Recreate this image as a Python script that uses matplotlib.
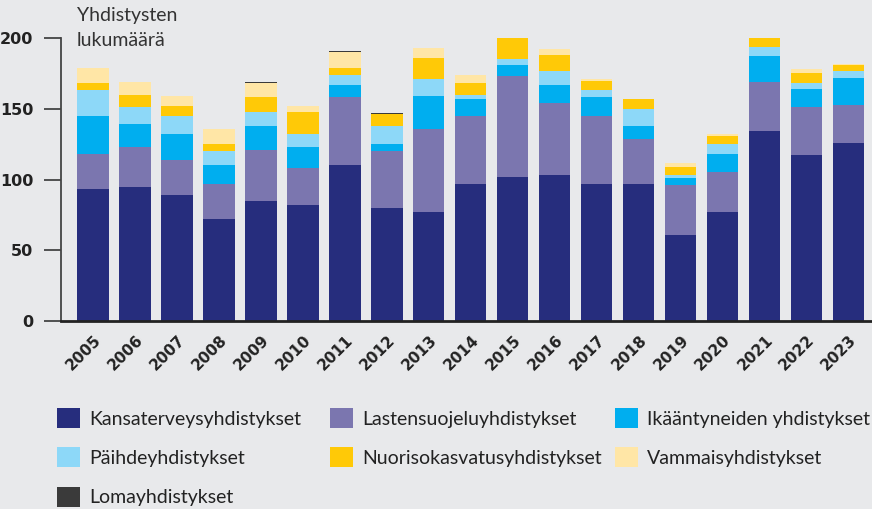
import matplotlib.pyplot as plt
import numpy as np

# Vuodet
vuodet = [str(v) for v in range(2005, 2024)]

# Yhdistysten lukumäärät luokittain (arvioitu kuvasta)
kansaterveys = [93, 95, 89, 72, 85, 82, 110, 80, 77, 97, 102, 103, 97, 97, 61, 77, 134, 117, 126]
lastensuojelu = [25, 28, 25, 25, 36, 26, 48, 40, 59, 48, 71, 51, 48, 32, 35, 28, 35, 34, 27]
ikaantyneet = [27, 16, 18, 13, 17, 15, 9, 5, 23, 12, 8, 13, 13, 9, 5, 13, 18, 13, 19]
paihde = [18, 12, 13, 10, 10, 9, 7, 13, 12, 3, 4, 10, 5, 12, 2, 7, 7, 4, 5]
nuorisokasvatus = [5, 9, 7, 5, 10, 16, 5, 8, 15, 8, 15, 11, 7, 7, 6, 6, 6, 7, 4]
vammais = [11, 9, 7, 11, 10, 4, 11, 0, 7, 6, 0, 4, 1, 0, 3, 1, 0, 3, 1]
loma = [0, 0, 0, 0, 1, 0, 1, 1, 0, 0, 0, 0, 0, 0, 0, 0, 0, 0, 0]

sarjat = [
    ("Kansaterveysyhdistykset", kansaterveys, "#262D7D"),
    ("Lastensuojeluyhdistykset", lastensuojelu, "#7B76AF"),
    ("Ikääntyneiden yhdistykset", ikaantyneet, "#00AEEF"),
    ("Päihdeyhdistykset", paihde, "#8DD8F8"),
    ("Nuorisokasvatusyhdistykset", nuorisokasvatus, "#FFC907"),
    ("Vammaisyhdistykset", vammais, "#FFE6A6"),
    ("Lomayhdistykset", loma, "#3A3A3A"),
]

tausta = "#E8E9EB"
fig = plt.figure(figsize=(8.72, 5.09), dpi=100, facecolor=tausta)
ax = fig.add_axes([61 / 872, 1 - 321 / 509, 811 / 872, 290 / 509])
ax.set_facecolor(tausta)

x = np.arange(len(vuodet))
pohja = np.zeros(len(vuodet))
kahvat = {}
for nimi, arvot, vari in sarjat:
    b = ax.bar(x, arvot, 0.74, bottom=pohja, color=vari, label=nimi, linewidth=0)
    kahvat[nimi] = b
    pohja += np.array(arvot)

ax.set_xlim(-0.762, 18.55)
ax.set_ylim(0, 205)
ax.set_yticks([0, 50, 100, 150, 200])
ax.set_xticks(x)
ax.set_xticklabels(vuodet, rotation=45, ha="right", rotation_mode="anchor",
                   fontweight="bold", fontsize=11, color="#222222")
ax.tick_params(axis="x", length=0, pad=8)
ax.tick_params(axis="y", length=12, width=1.3, color="#444444", pad=8,
               labelsize=11.5, labelcolor="#222222")
for t in ax.get_yticklabels():
    t.set_fontweight("bold")

for s in ["top", "right"]:
    ax.spines[s].set_visible(False)
ax.spines["left"].set_bounds(0, 200)
ax.spines["left"].set_color("#444444")
ax.spines["left"].set_linewidth(1.3)
ax.spines["bottom"].set_color("#222222")
ax.spines["bottom"].set_linewidth(2)

fig.text(77 / 872, 1 - 7 / 509, "Yhdistysten\nlukumäärä", ha="left", va="top",
         family="Lato", fontsize=14, color="#333333", linespacing=1.6)

# Selite kolmessa sarakkeessa
sarakkeet = [
    (["Kansaterveysyhdistykset", "Päihdeyhdistykset", "Lomayhdistykset"], 57),
    (["Lastensuojeluyhdistykset", "Nuorisokasvatusyhdistykset"], 330),
    (["Ikääntyneiden yhdistykset", "Vammaisyhdistykset"], 615),
]
for nimet, xp in sarakkeet:
    fig.legend([kahvat[n] for n in nimet], nimet, loc="upper left",
               bbox_to_anchor=(xp / 872, 1 - 408 / 509), frameon=False,
               prop={"family": "Lato", "size": 14},
               handlelength=1.2, handleheight=1.2,
               handletextpad=0.45, labelspacing=1.0, borderpad=0,
               borderaxespad=0, labelcolor="#222222")

fig.savefig("out.png", dpi=100, facecolor=tausta)
